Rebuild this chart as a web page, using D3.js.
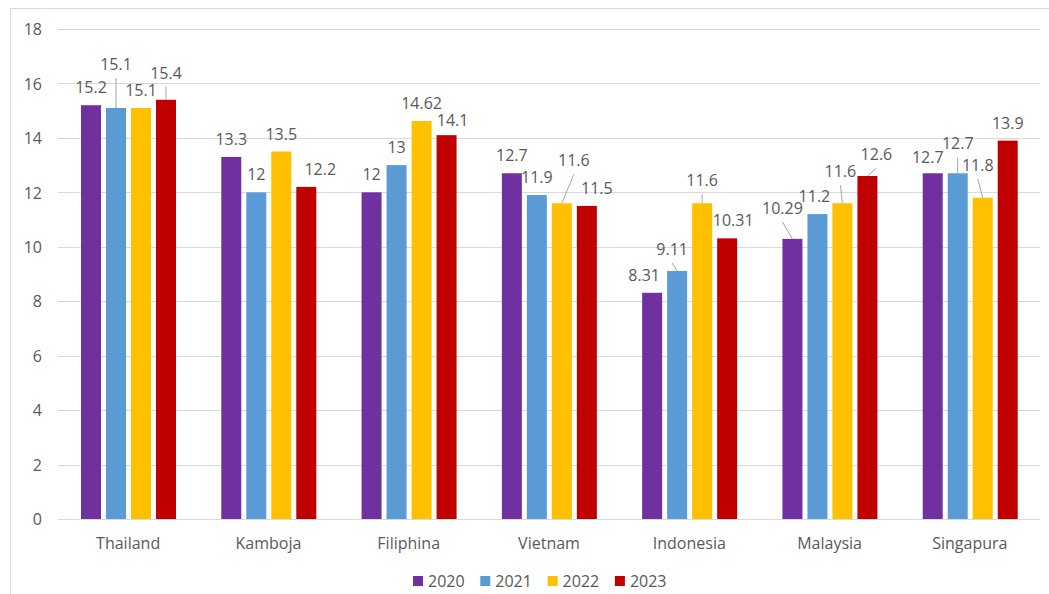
<!DOCTYPE html>
<html>
<head>
<meta charset="utf-8">
<script src="https://cdn.jsdelivr.net/npm/d3@7"></script>
<style>
  body { margin: 0; background: #fff; }
  svg text { font-family: "Open Sans", sans-serif; fill: #595959; }
</style>
</head>
<body>
<div id="chart"></div>
<script>
var countries = ["Thailand", "Kamboja", "Filiphina", "Vietnam", "Indonesia", "Malaysia", "Singapura"];
var years = ["2020", "2021", "2022", "2023"];
var v2020 = [15.2, 13.3, 12, 12.7, 8.31, 10.29, 12.7];
var v2021 = [15.1, 12, 13, 11.9, 9.11, 11.2, 12.7];
var v2022 = [15.1, 13.5, 14.62, 11.6, 11.6, 11.6, 11.8];
var v2023 = [15.4, 12.2, 14.1, 11.5, 10.31, 12.6, 13.9];
var yTicks = [0, 2, 4, 6, 8, 10, 12, 14, 16, 18];
var colors = ["#7030A0", "#5B9BD5", "#FFC000", "#C00000"];

// label nudges (px) where excel moved a label, [dx, dy, leader line?]
var nudge = {
  "Thailand-2021": [0, -26, 1], "Thailand-2023": [0, -9, 1],
  "Kamboja-2023": [14, 0, 0],
  "Filiphina-2023": [6, 3, 0],
  "Vietnam-2022": [12, -25, 1], "Vietnam-2023": [10, 0, 0],
  "Indonesia-2020": [-8, 0, 0], "Indonesia-2021": [-5, -4, 1],
  "Indonesia-2022": [0, -5, 1], "Indonesia-2023": [6, 0, 0],
  "Malaysia-2020": [-10, -13, 1], "Malaysia-2021": [-3, 0, 0],
  "Malaysia-2022": [-2, -14, 1], "Malaysia-2023": [9, -4, 1],
  "Singapura-2020": [-5, 2, 0], "Singapura-2021": [0, -12, 1],
  "Singapura-2022": [-5, -15, 1]
};

var series = [v2020, v2021, v2022, v2023];
var rows = countries.map(function(c, i) {
  return { name: c, vals: years.map(function(y, j) { return { year: y, value: series[j][i], k: j }; }) };
});

var w = 1049, h = 594;
var fs = "16px";
var svg = d3.select("#chart").append("svg").attr("width", w).attr("height", h);

// outer frame (only top and left edges show)
svg.append("path").attr("d", "M10.5,594V8.5H1049").attr("fill", "none").attr("stroke", "#d9d9d9");

var x0 = d3.scaleBand().domain(countries).range([58, 1040]);
var x1 = d3.scaleBand().domain(years).range([23, 118]).paddingInner(0.2);
var y = d3.scaleLinear().domain([0, 18]).range([519, 29]);

// gridlines
svg.append("g").selectAll("line")
  .data(yTicks.slice(1))
  .enter().append("line")
  .attr("x1", 58).attr("x2", 1040)
  .attr("y1", function(d) { return Math.round(y(d)) + 0.5; })
  .attr("y2", function(d) { return Math.round(y(d)) + 0.5; })
  .attr("stroke", "#d9d9d9");

var yAxis = svg.append("g").attr("transform", "translate(42,0)")
  .call(d3.axisLeft(y).tickValues(yTicks).tickSize(0).tickPadding(0));
yAxis.select(".domain").remove();
yAxis.selectAll("text").attr("font-size", fs).attr("dy", "0.36em");

var groups = svg.append("g").selectAll("g")
  .data(rows)
  .enter().append("g")
  .attr("transform", function(d) { return "translate(" + x0(d.name) + ",0)"; });

groups.selectAll("rect")
  .data(function(d) { return d.vals; })
  .enter().append("rect")
  .attr("x", function(d) { return x1(d.year); })
  .attr("y", function(d) { return y(d.value); })
  .attr("width", x1.bandwidth())
  .attr("height", function(d) { return y(0) - y(d.value); })
  .attr("fill", function(d) { return colors[d.k]; });

// baseline
svg.append("line").attr("x1", 58).attr("x2", 1040).attr("y1", 519.5).attr("y2", 519.5).attr("stroke", "#d9d9d9");

// data labels
groups.each(function(g) {
  var sel = d3.select(this);
  g.vals.forEach(function(d) {
    var n = nudge[g.name + "-" + d.year] || [0, 0, 0];
    var cx = x1(d.year) + x1.bandwidth() / 2;
    var top = y(d.value);
    var lx = cx + n[0], ly = top - 12 + n[1];
    if (n[2]) {
      sel.append("line")
        .attr("x1", lx).attr("y1", ly + 8)
        .attr("x2", cx).attr("y2", top)
        .attr("stroke", "#a6a6a6").attr("stroke-width", 1);
    }
    sel.append("text")
      .attr("x", lx).attr("y", ly)
      .attr("text-anchor", "middle")
      .attr("font-size", fs)
      .text(d.value);
  });
});

// category labels
var xAxis = svg.append("g").attr("transform", "translate(0,519)")
  .call(d3.axisBottom(x0).tickSize(0).tickPadding(0));
xAxis.select(".domain").remove();
xAxis.selectAll("text").attr("font-size", fs).attr("dy", "30px");

// legend
var legend = svg.append("g").selectAll("g")
  .data(years)
  .enter().append("g")
  .attr("transform", function(d, i) { return "translate(" + (413 + i * 67.3) + ",576)"; });
legend.append("rect").attr("width", 10).attr("height", 10)
  .attr("fill", function(d, i) { return colors[i]; });
legend.append("text").attr("x", 15).attr("y", 10.5).attr("font-size", fs).text(function(d) { return d; });
</script>
</body>
</html>
